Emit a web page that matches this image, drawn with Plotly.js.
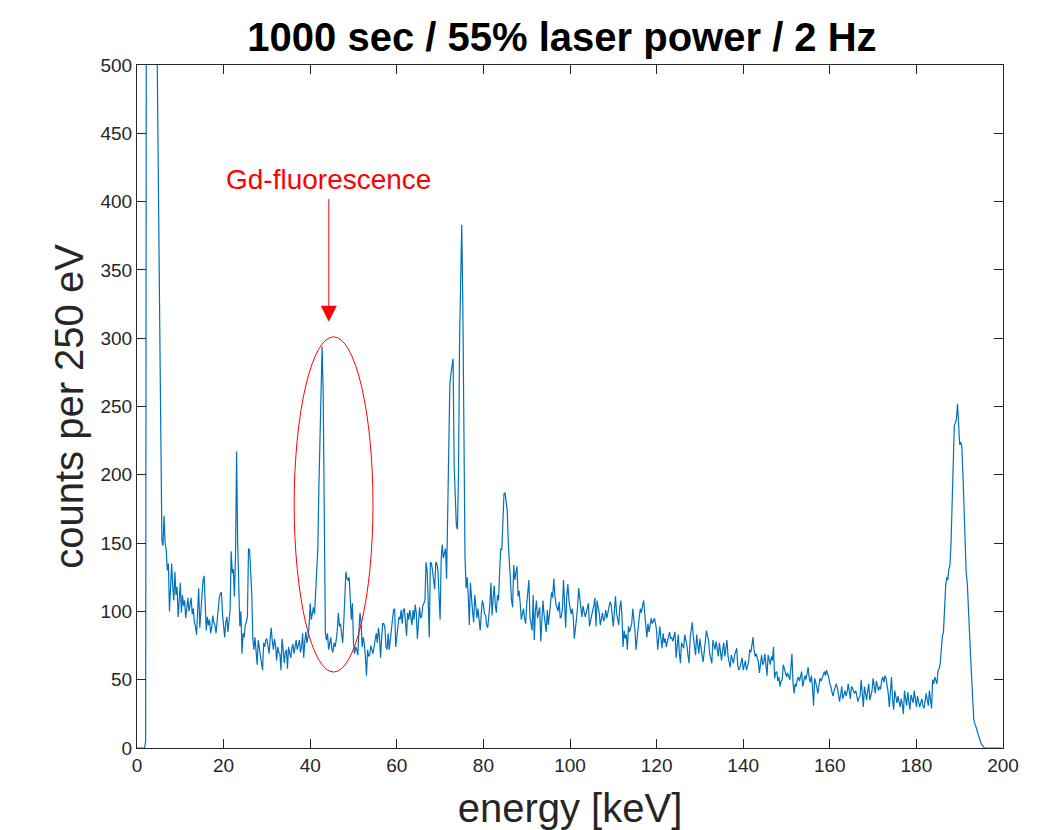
<!DOCTYPE html>
<html>
<head>
<meta charset="utf-8">
<script src="https://cdn.plot.ly/plotly-3.0.1.min.js"></script>
<style>html,body{margin:0;padding:0;background:#fff;}#chart{width:1055px;height:830px;}</style>
</head>
<body>
<div id="chart"></div>
<script>
// Spectrum: counts per 250 eV bin, bins starting at 0 keV, 0.25 keV wide
const binWidthKeV = 0.25;
const counts_000_010 = [0,0,0,0,0,0,0,0,5,900,2500,4000,5000,5000,4500,3500,2500,1200,560,460,385,310,230,152,148,170,150,145,130,135,100,120,135,118,108,129,112,118,96,108];
const counts_010_020 = [121,99,112,104,108,95,103,110,100,106,110,98,102,92,89,83,100,117,88,102,118,123,126,104,86,96,90,94,84,88,97,92,90,84,95,106,110,113,114,98];
const counts_020_030 = [90,81,92,96,85,93,101,144,128,131,111,140,217,150,110,89,100,69,84,81,90,92,96,146,145,130,113,80,72,81,66,61,79,72,67,62,57,77,74,79];
const counts_030_040 = [80,75,69,80,88,78,72,80,75,64,74,70,69,57,80,72,62,70,72,58,74,70,66,73,76,69,74,79,72,76,79,70,74,84,66,78,85,77,81,90];
const counts_040_050 = [106,94,100,103,98,118,126,145,190,226,264,294,260,194,84,79,84,72,76,81,72,70,77,74,79,86,99,89,91,84,77,92,116,129,124,123,125,103,94,106];
const counts_050_060 = [77,69,74,72,68,86,99,92,74,81,76,67,53,72,67,68,75,72,69,74,79,84,77,88,81,66,81,91,91,88,74,72,84,72,79,89,94,101,102,74];
const counts_060_070 = [81,91,96,94,101,91,101,102,92,82,99,94,101,96,90,101,94,105,99,80,92,103,95,96,104,107,108,136,130,108,81,136,135,130,123,116,136,135,130,116];
const counts_070_080 = [94,138,149,139,142,146,124,179,240,266,274,280,285,206,180,163,160,200,300,355,383,325,210,140,117,125,112,90,121,108,100,92,112,104,95,102,96,86,98,108];
const counts_080_090 = [105,98,97,90,88,97,105,121,97,110,119,104,99,112,108,130,146,145,165,186,187,180,174,150,135,116,108,103,134,123,128,133,111,115,106,94,98,102,95,91];
const counts_090_100 = [105,115,123,96,90,86,112,79,100,108,95,99,103,78,92,108,98,91,85,101,90,98,106,114,110,124,112,105,103,100,107,95,96,102,123,110,88,111,120,108];
const counts_100_110 = [103,98,102,96,80,90,95,103,117,110,103,96,104,98,96,99,102,106,89,94,96,101,104,110,89,108,103,99,90,96,99,93,95,101,95,99,102,107,105,97];
const counts_110_120 = [89,100,111,99,94,90,103,108,96,74,86,80,83,72,89,85,88,91,102,94,86,72,81,91,96,102,99,104,108,99,92,81,91,85,90,95,91,94,95,91];
const counts_120_130 = [86,72,81,89,80,73,84,77,80,74,78,81,85,80,81,78,82,85,66,75,83,70,62,77,75,73,83,79,75,68,62,81,88,92,81,74,68,83,76,69];
const counts_130_140 = [80,72,68,63,70,78,86,82,79,69,65,62,79,75,72,78,73,67,77,70,64,72,77,67,74,79,67,63,59,68,65,62,68,70,73,60,57,59,64,66];
const counts_140_150 = [57,62,64,57,60,63,72,70,75,81,72,67,69,66,63,55,60,68,61,62,69,60,53,68,63,61,67,64,74,51,55,56,49,52,45,49,50,61,58,55];
const counts_150_160 = [52,55,53,50,58,69,48,40,47,45,50,52,49,53,56,45,48,53,50,55,59,51,48,53,45,31,51,48,45,40,46,51,49,52,55,56,53,57,54,52];
const counts_160_170 = [47,45,41,38,42,45,47,44,40,34,39,45,36,40,42,38,41,47,40,36,45,44,41,40,42,38,34,37,38,50,41,30,45,40,35,42,47,35,40,42];
const counts_170_180 = [51,45,40,49,46,42,45,43,50,52,48,53,51,46,40,30,44,52,35,28,42,38,33,38,34,30,36,32,25,42,36,31,41,35,28,39,36,33,42,37];
const counts_180_190 = [30,38,34,30,33,36,31,29,34,40,35,31,42,36,29,50,47,52,49,47,57,58,62,77,82,85,110,118,125,123,131,134,150,180,212,236,238,241,252,230];
const counts_190_200 = [222,224,220,200,175,150,128,121,100,84,68,52,38,21,18,16,13,10,7,5,3,2,1,0,0,0,0,0,0,0,0,0,0,0,0,0,0,0,0,0];

const xTickVals = [0,20,40,60,80,100,120,140,160,180,200];
const yTickVals = [0,50,100,150,200,250,300,350,400,450,500];

const counts = [].concat(counts_000_010, counts_010_020, counts_020_030, counts_030_040, counts_040_050,
  counts_050_060, counts_060_070, counts_070_080, counts_080_090, counts_090_100, counts_100_110,
  counts_110_120, counts_120_130, counts_130_140, counts_140_150, counts_150_160, counts_160_170,
  counts_170_180, counts_180_190, counts_190_200);
const energy = counts.map((_, i) => i * binWidthKeV);

const FONT = '"Liberation Sans", Arial, Helvetica, sans-serif';
const AX = '#262626';

const trace = {
  x: energy, y: counts, type: 'scatter', mode: 'lines',
  line: {color: '#0072BD', width: 1.2}, hoverinfo: 'skip'
};

const axisCommon = {
  ticks: 'inside', ticklen: 9, tickwidth: 1, tickcolor: AX,
  showline: true, linecolor: AX, linewidth: 1, mirror: 'ticks',
  showgrid: false, zeroline: false, tickfont: {size: 19, color: AX, family: FONT},
  automargin: false
};

const layout = {
  width: 1055, height: 830,
  margin: {l: 137, r: 52, t: 65, b: 82, pad: 0},
  paper_bgcolor: '#ffffff', plot_bgcolor: '#ffffff',
  showlegend: false,
  font: {family: FONT, color: AX},
  title: {
    text: '1000 sec / 55% laser power / 2 Hz',
    font: {size: 40, color: '#000000', family: FONT, weight: 'bold'},
    x: 562 / 1055, xref: 'container', xanchor: 'center',
    y: 1 - 37 / 830, yref: 'container', yanchor: 'middle'
  },
  xaxis: Object.assign({}, axisCommon, {
    range: [0, 200], tickmode: 'array', tickvals: xTickVals,
    title: {text: 'energy [keV]', font: {size: 40, color: AX, family: FONT}, standoff: 19}
  }),
  yaxis: Object.assign({}, axisCommon, {
    range: [0, 500], tickmode: 'array', tickvals: yTickVals,
    title: {text: 'counts per 250 eV', font: {size: 40, color: AX, family: FONT}, standoff: 4}
  }),
  shapes: [{
    type: 'circle', xref: 'x', yref: 'y',
    x0: 36.3, x1: 54.5, y0: 55.6, y1: 301,
    line: {color: '#ff0000', width: 1}
  }],
  annotations: [
    {x: 44.3, y: 416.5, xref: 'x', yref: 'y', text: 'Gd-fluorescence', showarrow: false,
     font: {size: 28, color: '#ff0000', family: FONT}, xanchor: 'center', yanchor: 'middle'},
    {x: 44.3, y: 312, xref: 'x', yref: 'y', ax: 44.3, ay: 403, axref: 'x', ayref: 'y',
     text: '', showarrow: true, arrowhead: 2, arrowsize: 3.2, arrowwidth: 1, arrowcolor: '#ff0000'}
  ]
};

Plotly.newPlot('chart', [trace], layout, {staticPlot: true, displayModeBar: false});
</script>
</body>
</html>
